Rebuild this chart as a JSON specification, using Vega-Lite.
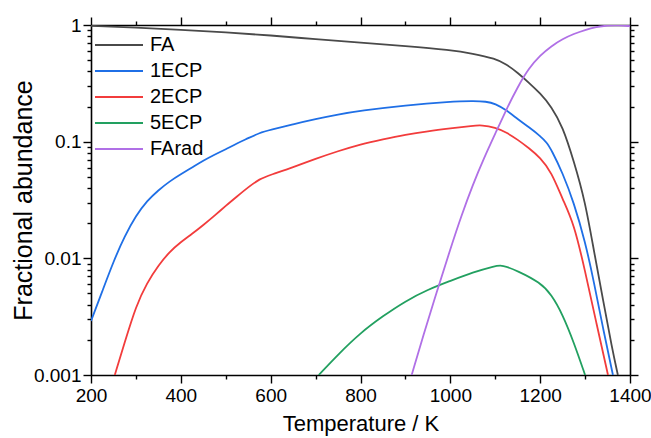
{
  "$schema": "https://vega.github.io/schema/vega-lite/v6.json",
  "width": 539,
  "height": 350,
  "autosize": {"type": "none"},
  "padding": {"left": 91, "top": 25, "right": 21, "bottom": 63},
  "background": "white",
  "config": {
    "view": {"stroke": null},
    "font": "Liberation Sans",
    "axis": {
      "domainColor": "#000000",
      "domainWidth": 1.6,
      "tickColor": "#000000",
      "tickWidth": 1.4,
      "grid": false,
      "labelColor": "#000000",
      "titleColor": "#000000",
      "labelFont": "Liberation Sans",
      "titleFont": "Liberation Sans",
      "titleFontWeight": "normal",
      "labelFontSize": 19,
      "labelFlush": false,
      "labelOverlap": false
    }
  },
  "data": {
    "values": [
      {"T": 200, "s": "FA", "v": 0.985}, {"T": 300, "s": "FA", "v": 0.95}, {"T": 400, "s": "FA", "v": 0.91},
      {"T": 500, "s": "FA", "v": 0.865}, {"T": 600, "s": "FA", "v": 0.815}, {"T": 700, "s": "FA", "v": 0.755},
      {"T": 800, "s": "FA", "v": 0.705}, {"T": 900, "s": "FA", "v": 0.66}, {"T": 1000, "s": "FA", "v": 0.61},
      {"T": 1050, "s": "FA", "v": 0.57}, {"T": 1100, "s": "FA", "v": 0.515}, {"T": 1125, "s": "FA", "v": 0.46},
      {"T": 1150, "s": "FA", "v": 0.39}, {"T": 1175, "s": "FA", "v": 0.32}, {"T": 1200, "s": "FA", "v": 0.26},
      {"T": 1225, "s": "FA", "v": 0.2}, {"T": 1250, "s": "FA", "v": 0.135}, {"T": 1275, "s": "FA", "v": 0.068},
      {"T": 1300, "s": "FA", "v": 0.031}, {"T": 1320, "s": "FA", "v": 0.0114}, {"T": 1340, "s": "FA", "v": 0.0044},
      {"T": 1360, "s": "FA", "v": 0.0017}, {"T": 1373, "s": "FA", "v": 0.001},

      {"T": 200, "s": "1ECP", "v": 0.0029}, {"T": 225, "s": "1ECP", "v": 0.0052}, {"T": 250, "s": "1ECP", "v": 0.0094},
      {"T": 275, "s": "1ECP", "v": 0.0155}, {"T": 300, "s": "1ECP", "v": 0.0232}, {"T": 325, "s": "1ECP", "v": 0.0312},
      {"T": 350, "s": "1ECP", "v": 0.0384}, {"T": 375, "s": "1ECP", "v": 0.0457}, {"T": 400, "s": "1ECP", "v": 0.0526},
      {"T": 425, "s": "1ECP", "v": 0.06}, {"T": 450, "s": "1ECP", "v": 0.0687}, {"T": 475, "s": "1ECP", "v": 0.0773},
      {"T": 500, "s": "1ECP", "v": 0.086}, {"T": 525, "s": "1ECP", "v": 0.0968}, {"T": 550, "s": "1ECP", "v": 0.107},
      {"T": 575, "s": "1ECP", "v": 0.119}, {"T": 600, "s": "1ECP", "v": 0.126}, {"T": 650, "s": "1ECP", "v": 0.141},
      {"T": 700, "s": "1ECP", "v": 0.156}, {"T": 750, "s": "1ECP", "v": 0.171}, {"T": 800, "s": "1ECP", "v": 0.184},
      {"T": 900, "s": "1ECP", "v": 0.205}, {"T": 1000, "s": "1ECP", "v": 0.22}, {"T": 1050, "s": "1ECP", "v": 0.223},
      {"T": 1080, "s": "1ECP", "v": 0.221}, {"T": 1100, "s": "1ECP", "v": 0.212}, {"T": 1125, "s": "1ECP", "v": 0.186},
      {"T": 1150, "s": "1ECP", "v": 0.156}, {"T": 1175, "s": "1ECP", "v": 0.133}, {"T": 1200, "s": "1ECP", "v": 0.112},
      {"T": 1215, "s": "1ECP", "v": 0.098}, {"T": 1225, "s": "1ECP", "v": 0.085}, {"T": 1250, "s": "1ECP", "v": 0.054},
      {"T": 1275, "s": "1ECP", "v": 0.03}, {"T": 1300, "s": "1ECP", "v": 0.014}, {"T": 1320, "s": "1ECP", "v": 0.0062},
      {"T": 1340, "s": "1ECP", "v": 0.0025}, {"T": 1362, "s": "1ECP", "v": 0.001},

      {"T": 253, "s": "2ECP", "v": 0.001}, {"T": 275, "s": "2ECP", "v": 0.0019}, {"T": 300, "s": "2ECP", "v": 0.0039},
      {"T": 325, "s": "2ECP", "v": 0.0062}, {"T": 350, "s": "2ECP", "v": 0.0087}, {"T": 375, "s": "2ECP", "v": 0.0114},
      {"T": 400, "s": "2ECP", "v": 0.0138}, {"T": 425, "s": "2ECP", "v": 0.0162}, {"T": 450, "s": "2ECP", "v": 0.0193},
      {"T": 475, "s": "2ECP", "v": 0.0232}, {"T": 500, "s": "2ECP", "v": 0.0282}, {"T": 525, "s": "2ECP", "v": 0.0339},
      {"T": 550, "s": "2ECP", "v": 0.0407}, {"T": 575, "s": "2ECP", "v": 0.0479}, {"T": 600, "s": "2ECP", "v": 0.052},
      {"T": 650, "s": "2ECP", "v": 0.0604}, {"T": 700, "s": "2ECP", "v": 0.0714}, {"T": 750, "s": "2ECP", "v": 0.083},
      {"T": 800, "s": "2ECP", "v": 0.095}, {"T": 850, "s": "2ECP", "v": 0.105}, {"T": 900, "s": "2ECP", "v": 0.115},
      {"T": 950, "s": "2ECP", "v": 0.123}, {"T": 1000, "s": "2ECP", "v": 0.13}, {"T": 1050, "s": "2ECP", "v": 0.137},
      {"T": 1070, "s": "2ECP", "v": 0.139}, {"T": 1100, "s": "2ECP", "v": 0.132}, {"T": 1125, "s": "2ECP", "v": 0.12},
      {"T": 1150, "s": "2ECP", "v": 0.104}, {"T": 1175, "s": "2ECP", "v": 0.088}, {"T": 1200, "s": "2ECP", "v": 0.073},
      {"T": 1225, "s": "2ECP", "v": 0.055}, {"T": 1250, "s": "2ECP", "v": 0.032}, {"T": 1275, "s": "2ECP", "v": 0.02},
      {"T": 1300, "s": "2ECP", "v": 0.0078}, {"T": 1325, "s": "2ECP", "v": 0.0028}, {"T": 1351, "s": "2ECP", "v": 0.001},

      {"T": 707, "s": "5ECP", "v": 0.001}, {"T": 750, "s": "5ECP", "v": 0.0015}, {"T": 800, "s": "5ECP", "v": 0.0023},
      {"T": 850, "s": "5ECP", "v": 0.0032}, {"T": 900, "s": "5ECP", "v": 0.0043}, {"T": 950, "s": "5ECP", "v": 0.0054},
      {"T": 1000, "s": "5ECP", "v": 0.0064}, {"T": 1050, "s": "5ECP", "v": 0.0076}, {"T": 1100, "s": "5ECP", "v": 0.0086},
      {"T": 1115, "s": "5ECP", "v": 0.0088}, {"T": 1150, "s": "5ECP", "v": 0.0078}, {"T": 1200, "s": "5ECP", "v": 0.0062},
      {"T": 1225, "s": "5ECP", "v": 0.0049}, {"T": 1250, "s": "5ECP", "v": 0.0033}, {"T": 1275, "s": "5ECP", "v": 0.0019},
      {"T": 1300, "s": "5ECP", "v": 0.001},

      {"T": 914, "s": "FArad", "v": 0.001}, {"T": 940, "s": "FArad", "v": 0.0022}, {"T": 970, "s": "FArad", "v": 0.0052},
      {"T": 1000, "s": "FArad", "v": 0.012}, {"T": 1025, "s": "FArad", "v": 0.0234}, {"T": 1050, "s": "FArad", "v": 0.0427},
      {"T": 1075, "s": "FArad", "v": 0.0724}, {"T": 1100, "s": "FArad", "v": 0.117}, {"T": 1125, "s": "FArad", "v": 0.19},
      {"T": 1150, "s": "FArad", "v": 0.295}, {"T": 1175, "s": "FArad", "v": 0.427}, {"T": 1200, "s": "FArad", "v": 0.55},
      {"T": 1225, "s": "FArad", "v": 0.66}, {"T": 1250, "s": "FArad", "v": 0.76}, {"T": 1275, "s": "FArad", "v": 0.84},
      {"T": 1300, "s": "FArad", "v": 0.908}, {"T": 1325, "s": "FArad", "v": 0.962}, {"T": 1350, "s": "FArad", "v": 0.993},
      {"T": 1375, "s": "FArad", "v": 0.998}, {"T": 1400, "s": "FArad", "v": 0.977}
    ]
  },
  "layer": [
    {
      "mark": {"type": "line", "strokeWidth": 1.8, "interpolate": "basis", "clip": true},
      "encoding": {
        "x": {
          "field": "T", "type": "quantitative",
          "scale": {"domain": [200, 1400], "nice": false, "zero": false},
          "axis": {
            "title": "Temperature / K",
            "titleFontSize": 22,
            "titlePadding": 8,
            "format": "d",
            "values": [200, 300, 400, 500, 600, 700, 800, 900, 1000, 1100, 1200, 1300, 1400],
            "labelExpr": "datum.value % 200 == 0 ? datum.label : ''",
            "tickSize": {"condition": {"test": "datum.value % 200 != 0", "value": 4}, "value": 8},
            "labelPadding": 3
          }
        },
        "y": {
          "field": "v", "type": "quantitative",
          "scale": {"type": "log", "domain": [0.001, 1], "nice": false},
          "axis": {
            "title": "Fractional abundance",
            "titleFontSize": 25,
            "titleX": -55,
            "format": "~g",
            "values": [0.001, 0.002, 0.003, 0.004, 0.005, 0.006, 0.007, 0.008, 0.009,
                       0.01, 0.02, 0.03, 0.04, 0.05, 0.06, 0.07, 0.08, 0.09,
                       0.1, 0.2, 0.3, 0.4, 0.5, 0.6, 0.7, 0.8, 0.9, 1],
            "labelExpr": "indexof([1, 0.1, 0.01, 0.001], datum.value) >= 0 ? datum.label : ''",
            "tickSize": {"condition": {"test": "indexof([1, 0.1, 0.01, 0.001], datum.value) < 0", "value": 4}, "value": 8},
            "labelPadding": 2
          }
        },
        "color": {
          "field": "s", "type": "nominal",
          "scale": {
            "domain": ["FA", "1ECP", "2ECP", "5ECP", "FArad"],
            "range": ["#4a4a4a", "#1f6fe6", "#f23c3c", "#22a060", "#b070e6"]
          },
          "legend": {
            "title": null,
            "orient": "none",
            "legendX": 17,
            "legendY": 9,
            "symbolType": "M-2.4,0H2.4",
            "symbolSize": 400,
            "symbolStrokeWidth": 2,
            "labelFontSize": 20,
            "labelFont": "Liberation Sans",
            "labelColor": "#000000",
            "labelOffset": 20,
            "rowPadding": 5
          }
        }
      }
    },
    {
      "mark": {"type": "line", "opacity": 0},
      "encoding": {
        "x": {"field": "T", "type": "quantitative", "axis": {"orient": "top", "title": null, "labels": false,
          "values": [200, 300, 400, 500, 600, 700, 800, 900, 1000, 1100, 1200, 1300, 1400],
          "tickSize": {"condition": {"test": "datum.value % 200 != 0", "value": 4}, "value": 8}}},
        "y": {"field": "v", "type": "quantitative", "axis": {"orient": "right", "title": null, "labels": false,
          "values": [0.001, 0.002, 0.003, 0.004, 0.005, 0.006, 0.007, 0.008, 0.009,
                     0.01, 0.02, 0.03, 0.04, 0.05, 0.06, 0.07, 0.08, 0.09,
                     0.1, 0.2, 0.3, 0.4, 0.5, 0.6, 0.7, 0.8, 0.9, 1],
          "tickSize": {"condition": {"test": "indexof([1, 0.1, 0.01, 0.001], datum.value) < 0", "value": 4}, "value": 8}}},
        "detail": {"field": "s"}
      }
    }
  ],
  "resolve": {"axis": {"x": "independent", "y": "independent"}}
}
